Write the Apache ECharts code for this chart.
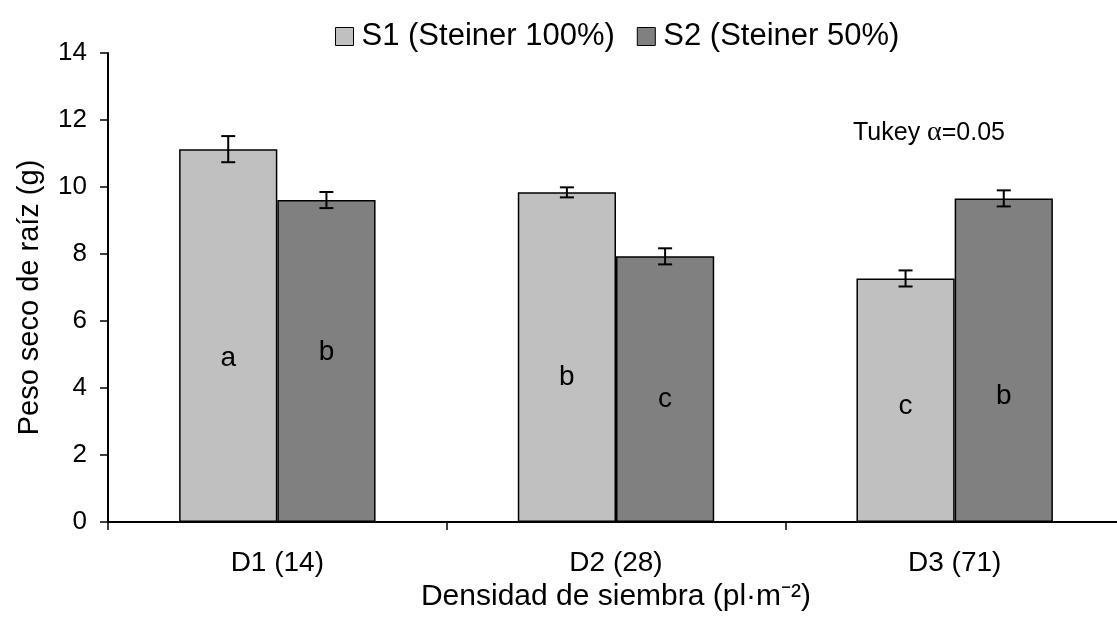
<!DOCTYPE html>
<html>
<head>
<meta charset="utf-8">
<title>Peso seco de raíz</title>
<script src="https://cdn.jsdelivr.net/npm/echarts@6/dist/echarts.min.js"></script>
<style>
  html, body { margin: 0; padding: 0; background: #fff; }
  #chart { width: 1117px; height: 621px; }
</style>
</head>
<body>
<div id="chart"></div>
<script>
// Planting densities (plants per m²)
const categories = ['D1 (14)', 'D2 (28)', 'D3 (71)'];
const seriesNames = ['S1 (Steiner 100%)', 'S2 (Steiner 50%)'];

// Mean root dry weight (g) and standard error
const s1Mean = [11.13, 9.84, 7.27];
const s2Mean = [9.61, 7.93, 9.66];
const s1Err = [0.39, 0.15, 0.24];
const s2Err = [0.24, 0.24, 0.24];

// Tukey grouping letters and the height (g) at which each is written
const s1Letters = ['a', 'b', 'c'];
const s2Letters = ['b', 'c', 'b'];
const s1LetterY = [4.9, 4.31, 3.44];
const s2LetterY = [5.08, 3.65, 3.74];

const yMin = 0, yMax = 14, yStep = 2;

const FONT = '"Liberation Sans", Arial, Helvetica, sans-serif';
const BAR_RATIO = 0.29;          // bar width as a share of the category band
const COLORS = ['#c0c0c0', '#808080'];

// Error bar (I-beam) plus the grouping letter for one treatment
function makeOverlay(side, means, errs, letters, letterY) {
  return {
    type: 'custom',
    name: 'overlay' + side,
    z: 10,
    data: means.map((m, i) => [i, m, errs[i], letterY[i]]),
    encode: { x: 0, y: 1 },
    renderItem: function (params, api) {
      const i = api.value(0);
      const m = api.value(1), e = api.value(2);
      const band = api.size([1, 0])[0];
      const dx = side * band * BAR_RATIO / 2;
      const top = api.coord([i, m + e]);
      const bot = api.coord([i, m - e]);
      const lab = api.coord([i, api.value(3)]);
      const cx = top[0] + dx;
      const cap = 7;
      const ls = { stroke: '#000', lineWidth: 2 };
      return {
        type: 'group',
        children: [
          { type: 'line', shape: { x1: cx, y1: top[1], x2: cx, y2: bot[1] }, style: ls },
          { type: 'line', shape: { x1: cx - cap, y1: top[1], x2: cx + cap, y2: top[1] }, style: ls },
          { type: 'line', shape: { x1: cx - cap, y1: bot[1], x2: cx + cap, y2: bot[1] }, style: ls },
          {
            type: 'text',
            x: lab[0] + dx, y: lab[1],
            style: {
              text: letters[params.dataIndex],
              fill: '#000',
              font: '28px ' + FONT,
              align: 'center',
              verticalAlign: 'middle'
            }
          }
        ]
      };
    }
  };
}

const chart = echarts.init(document.getElementById('chart'), null, { renderer: 'canvas' });

chart.setOption({
  animation: false,
  backgroundColor: '#fff',
  textStyle: { fontFamily: FONT, color: '#000' },
  grid: {
    left: 108, right: -7, top: 53, bottom: 99,
    containLabel: false,
    outerBoundsMode: 'none'
  },
  legend: {
    data: seriesNames,
    top: 16,
    left: 330,
    icon: 'rect',
    itemWidth: 18,
    itemHeight: 18,
    itemGap: 22,
    itemStyle: { borderColor: '#000', borderWidth: 1 },
    textStyle: { fontSize: 31, fontFamily: FONT, color: '#000', padding: [0, 0, 0, 3] }
  },
  graphic: [{
    type: 'text',
    left: 853,
    top: 119,
    style: {
      text: 'Tukey {g|α}=0.05',
      font: '25px ' + FONT,
      fill: '#000',
      rich: {
        g: { fontFamily: '"Liberation Serif", "DejaVu Serif", serif', fontSize: 28, fill: '#000' }
      }
    }
  }],
  xAxis: {
    type: 'category',
    data: categories,
    boundaryGap: true,
    name: 'Densidad de siembra (pl·m⁻²)',
    nameLocation: 'middle',
    nameGap: 50,
    nameTextStyle: { fontSize: 30, fontFamily: FONT, color: '#000' },
    axisLine: { show: true, lineStyle: { color: '#000', width: 2 } },
    axisTick: { show: true, length: 8, inside: false, lineStyle: { color: '#000', width: 1.5 } },
    axisLabel: { fontSize: 28, fontFamily: FONT, color: '#000', margin: 27 },
    splitLine: { show: false }
  },
  yAxis: {
    type: 'value',
    min: yMin,
    max: yMax,
    interval: yStep,
    name: 'Peso seco de raíz (g)',
    nameLocation: 'middle',
    nameGap: 64,
    nameRotate: 90,
    nameTextStyle: { fontSize: 29, fontFamily: FONT, color: '#000', padding: [0, 20, 0, 0] },
    axisLine: { show: true, lineStyle: { color: '#000', width: 2 } },
    axisTick: { show: true, length: 8, inside: false, lineStyle: { color: '#000', width: 1.5 } },
    axisLabel: { fontSize: 26, fontFamily: FONT, color: '#000', margin: 21 },
    splitLine: { show: false }
  },
  series: [
    {
      type: 'bar',
      name: seriesNames[0],
      data: s1Mean,
      barWidth: (BAR_RATIO * 100) + '%',
      barGap: '0%',
      itemStyle: { color: COLORS[0], borderColor: '#000', borderWidth: 1.5 }
    },
    {
      type: 'bar',
      name: seriesNames[1],
      data: s2Mean,
      barWidth: (BAR_RATIO * 100) + '%',
      barGap: '0%',
      itemStyle: { color: COLORS[1], borderColor: '#000', borderWidth: 1.5 }
    },
    makeOverlay(-1, s1Mean, s1Err, s1Letters, s1LetterY),
    makeOverlay(1, s2Mean, s2Err, s2Letters, s2LetterY)
  ]
});
</script>
</body>
</html>
